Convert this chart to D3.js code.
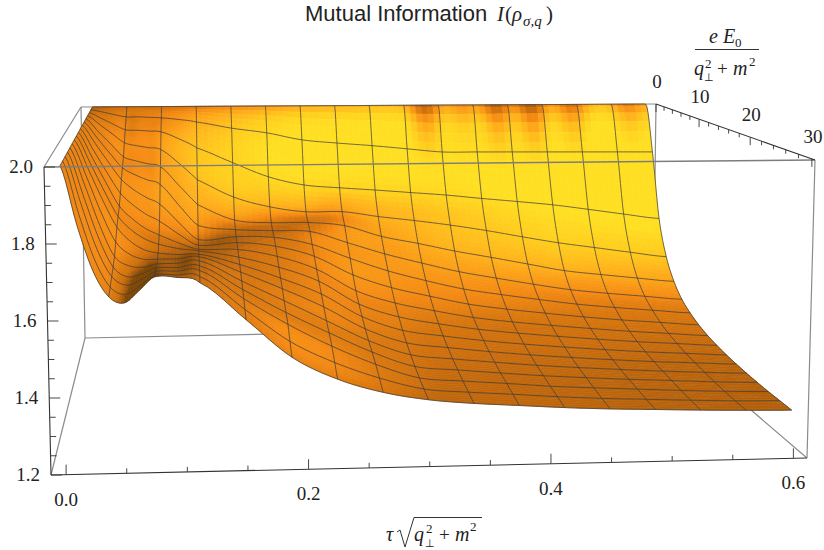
<!DOCTYPE html>
<html>
<head>
<meta charset="utf-8">
<title>Mutual Information</title>
<script src="https://cdnjs.cloudflare.com/ajax/libs/d3/7.8.5/d3.min.js"></script>
<style>
	body { margin: 0; background: #fff; }
	svg { display: block; }
	text { fill: #222; }
</style>
</head>
<body>
<div id="chart"></div>
<script>
// Grid of the surface
var tauValues = [0, 0.0125, 0.025, 0.0375, 0.05, 0.0625, 0.075, 0.09375, 0.1125, 0.15, 0.1875, 0.225, 0.2625, 0.3, 0.3375, 0.375, 0.4125, 0.45, 0.4875, 0.525, 0.5625, 0.6];
var fieldValues = [0, 1.875, 3.75, 5.625, 7.5, 9.375, 11.25, 13.125, 15, 16.875, 18.75, 20.625, 22.5, 24.375, 26.25, 28.125, 30];
var meshTau = [0, 0.0375, 0.075, 0.1125, 0.15, 0.1875, 0.225, 0.2625, 0.3, 0.3375, 0.375, 0.4125, 0.45, 0.4875, 0.525, 0.5625, 0.6];

// Mutual information, one row per tau value, one column per field value
var info = [
	[2, 2, 2, 2, 2, 2, 2, 2, 2, 2, 2, 2, 2, 2, 2, 2, 2],
	[2, 1.992, 1.981, 1.97, 1.958, 1.95, 1.942, 1.932, 1.924, 1.918, 1.912, 1.903, 1.893, 1.882, 1.871, 1.857, 1.846],
	[2, 1.983, 1.961, 1.94, 1.917, 1.9, 1.884, 1.864, 1.848, 1.835, 1.822, 1.8, 1.78, 1.764, 1.75, 1.735, 1.724],
	[2, 1.975, 1.942, 1.91, 1.876, 1.853, 1.829, 1.8, 1.775, 1.759, 1.743, 1.716, 1.692, 1.68, 1.672, 1.662, 1.656],
	[2, 1.975, 1.94, 1.9, 1.862, 1.83, 1.795, 1.762, 1.735, 1.717, 1.7, 1.68, 1.665, 1.652, 1.648, 1.642, 1.639],
	[2, 1.973, 1.937, 1.893, 1.852, 1.813, 1.77, 1.733, 1.705, 1.69, 1.675, 1.665, 1.66, 1.66, 1.662, 1.665, 1.671],
	[2, 1.971, 1.934, 1.886, 1.842, 1.798, 1.749, 1.711, 1.685, 1.674, 1.665, 1.665, 1.669, 1.676, 1.684, 1.693, 1.706],
	[2, 1.965, 1.91, 1.84, 1.78, 1.73, 1.69, 1.67, 1.66, 1.66, 1.66, 1.665, 1.67, 1.676, 1.684, 1.692, 1.704],
	[2, 1.956, 1.879, 1.785, 1.717, 1.665, 1.636, 1.635, 1.64, 1.652, 1.66, 1.67, 1.676, 1.68, 1.685, 1.687, 1.689],
	[2, 1.934, 1.828, 1.726, 1.665, 1.65, 1.644, 1.642, 1.638, 1.632, 1.628, 1.624, 1.617, 1.612, 1.606, 1.597, 1.59],
	[2, 1.917, 1.779, 1.692, 1.655, 1.645, 1.64, 1.629, 1.615, 1.6, 1.586, 1.574, 1.559, 1.546, 1.534, 1.509, 1.489],
	[2, 1.892, 1.75, 1.674, 1.654, 1.641, 1.616, 1.596, 1.574, 1.556, 1.537, 1.519, 1.5, 1.487, 1.472, 1.45, 1.429],
	[2, 1.88, 1.739, 1.673, 1.642, 1.603, 1.57, 1.536, 1.506, 1.485, 1.468, 1.453, 1.441, 1.431, 1.42, 1.406, 1.392],
	[2, 1.87, 1.73, 1.655, 1.605, 1.565, 1.528, 1.494, 1.466, 1.444, 1.425, 1.41, 1.398, 1.388, 1.38, 1.374, 1.37],
	[2, 1.858, 1.72, 1.64, 1.58, 1.533, 1.495, 1.465, 1.44, 1.421, 1.406, 1.394, 1.384, 1.376, 1.369, 1.363, 1.358],
	[2, 1.846, 1.71, 1.623, 1.553, 1.503, 1.466, 1.438, 1.417, 1.402, 1.39, 1.38, 1.372, 1.365, 1.36, 1.355, 1.35],
	[2, 1.845, 1.697, 1.603, 1.53, 1.48, 1.446, 1.42, 1.401, 1.388, 1.377, 1.368, 1.361, 1.355, 1.35, 1.346, 1.342],
	[2, 1.844, 1.685, 1.58, 1.506, 1.458, 1.428, 1.405, 1.388, 1.376, 1.366, 1.358, 1.352, 1.347, 1.343, 1.339, 1.336],
	[2, 1.843, 1.672, 1.558, 1.482, 1.438, 1.411, 1.391, 1.376, 1.365, 1.356, 1.349, 1.344, 1.34, 1.337, 1.334, 1.332],
	[2, 1.842, 1.655, 1.54, 1.467, 1.424, 1.398, 1.379, 1.365, 1.355, 1.347, 1.341, 1.337, 1.334, 1.331, 1.329, 1.328],
	[2, 1.841, 1.637, 1.522, 1.453, 1.412, 1.387, 1.369, 1.356, 1.347, 1.34, 1.335, 1.331, 1.328, 1.326, 1.325, 1.325],
	[2, 1.84, 1.62, 1.505, 1.44, 1.4, 1.376, 1.359, 1.347, 1.339, 1.333, 1.329, 1.326, 1.324, 1.323, 1.323, 1.323]
];

// Dark lobes near zero field: tau position and how dark each one is
var lobeTau = [0.36, 0.4, 0.437, 0.475, 0.518, 0.58];
var lobeDepth = [1.0, 0.5, 1.0, 1.1, 0.8, 0.6];

// Tick lists
var tauTicks = d3.range(0, 0.601, 0.05);
var tauLabels = [0, 0.2, 0.4, 0.6];
var infoTicks = d3.range(1.2, 2.001, 0.05);
var infoLabels = [1.2, 1.4, 1.6, 1.8, 2.0];
var fieldTicks = d3.range(0, 30.1, 2);
var fieldLabels = [0, 10, 20, 30];

var svg = d3.select('#chart')
	.append('svg')
	.attr('width', 824)
	.attr('height', 550);

// Corners of the plot box as seen on screen
var box = {
	frontTopLeft: [44, 167], frontTopRight: [815, 160],
	frontBottomLeft: [51, 475], frontBottomRight: [807, 458],
	backTopLeft: [81, 107], backTopRight: [656, 104],
	backBottomLeft: [85, 338], backBottomRight: [653, 326]
};

var tauScale = d3.scaleLinear().domain([0, 0.6]).range([0.02, 0.982]);
var fieldScale = d3.scaleLinear().domain([0, 30]).range([0, 0.985]);
var infoScale = d3.scaleLinear().domain([1.2, 2]).range([0, 1]);
var depth = 0.76;

function mix(a, b, t) {
	return [a[0] + (b[0] - a[0]) * t, a[1] + (b[1] - a[1]) * t];
}

// Box position (0..1 on each edge) to screen
function boxPoint(u, v, w) {
	var back = mix(mix(box.backBottomLeft, box.backBottomRight, u), mix(box.backTopLeft, box.backTopRight, u), w);
	var front = mix(mix(box.frontBottomLeft, box.frontBottomRight, u), mix(box.frontTopLeft, box.frontTopRight, u), w);
	var p = depth * v / (1 + (depth - 1) * v);
	return mix(back, front, p);
}

function project(tau, field, value) {
	return boxPoint(tauScale(tau), fieldScale(field), infoScale(value));
}

function catmull(p0, p1, p2, p3, t) {
	return 0.5 * (2 * p1 + (p2 - p0) * t + (2 * p0 - 5 * p1 + 4 * p2 - p3) * t * t + (3 * p1 - p0 - 3 * p2 + p3) * t * t * t);
}

// Value at a grid node, mirrored across zero field so the surface is flat there
function node(i, k) {
	i = Math.max(0, Math.min(tauValues.length - 1, i));
	if (k < 0) k = -k;
	k = Math.min(fieldValues.length - 1, k);
	return info[i][k];
}

// Smooth lookup between nodes, a and b are fractional grid indices
function surface(a, b) {
	var i = Math.min(Math.floor(a), tauValues.length - 2);
	var k = Math.min(Math.floor(b), fieldValues.length - 2);
	var s = a - i, t = b - k;
	var cols = [-1, 0, 1, 2].map(function(di) {
		return catmull(node(i + di, k - 1), node(i + di, k), node(i + di, k + 1), node(i + di, k + 2), t);
	});
	return Math.min(2, catmull(cols[0], cols[1], cols[2], cols[3], s));
}

function tauAt(a) {
	var i = Math.min(Math.floor(a), tauValues.length - 2);
	return tauValues[i] + (tauValues[i + 1] - tauValues[i]) * (a - i);
}

function fieldAt(b) {
	var k = Math.min(Math.floor(b), fieldValues.length - 2);
	return fieldValues[k] + (fieldValues[k + 1] - fieldValues[k]) * (b - k);
}

function surfacePoint(a, b) {
	return project(tauAt(a), fieldAt(b), surface(a, b));
}

// Brightness of the surface from its normal
function brightness(a, b) {
	var d = 0.05;
	var a0 = Math.max(0, a - d), a1 = Math.min(tauValues.length - 1, a + d);
	var b0 = Math.max(0, b - d), b1 = Math.min(fieldValues.length - 1, b + d);
	var zu = (surface(a1, b) - surface(a0, b)) / (tauAt(a1) - tauAt(a0)) * 0.75 * 0.4;
	var zv = (surface(a, b1) - surface(a, b0)) / (fieldAt(b1) - fieldAt(b0)) * 37.5 * 0.4;
	var n = Math.sqrt(zu * zu + zv * zv + 1);
	var nx = -zu / n, nv = -zv / n;
	var t = nv * (0.72 + 0.28 * Math.min(1, tauAt(a) / 0.22)) + (nx > 0 ? 0.25 * nx : 1.2 * nx);
	if (b < 1.3) {
		lobeTau.forEach(function(c, j) {
			var e = (tauAt(a) - c) / 0.011;
			t -= lobeDepth[j] * Math.exp(-e * e) * (1 - b / 1.3);
		});
	}
	return t;
}

var shade = d3.scaleLinear()
	.domain([-0.3, 0.03, 0.1, 0.17, 0.27, 0.45, 0.62, 0.75])
	.range(['#7f4604', '#b8620a', '#cd6e0b', '#d9760c', '#f58a12', '#ffae1a', '#ffce1e', '#ffdf22'])
	.clamp(true);

var subA = 6, subB = 6;
var nA = (tauValues.length - 1) * subA, nB = (fieldValues.length - 1) * subB;

// Brightness on the patch grid, softened a little
var light = d3.range(nA).map(function(ia) {
	return d3.range(nB).map(function(ib) {
		return brightness((ia + 0.5) / subA, (ib + 0.5) / subB);
	});
});
d3.range(6).forEach(function() {
	light = light.map(function(col, ia) {
		return col.map(function(v, ib) {
			var l = light[Math.max(0, ia - 1)][ib], r = light[Math.min(nA - 1, ia + 1)][ib];
			var u = col[Math.max(0, ib - 1)], w = col[Math.min(nB - 1, ib + 1)];
			return (2 * v + l + r + u + w) / 6;
		});
	});
});

var line = d3.line();

// Back edges of the box, behind the surface
var g = svg.append('g');
function edge(a, b, colour, width) {
	g.append('line')
		.attr('x1', a[0]).attr('y1', a[1])
		.attr('x2', b[0]).attr('y2', b[1])
		.attr('stroke', colour)
		.attr('stroke-width', width);
}
var grey = '#8c8c8c';
edge(box.backTopLeft, box.backTopRight, grey, 1.2);
edge(box.backTopLeft, box.backBottomLeft, grey, 1.2);
edge(box.backTopRight, box.backBottomRight, grey, 1.2);
edge(box.backBottomLeft, box.backBottomRight, grey, 1.2);
edge(box.frontTopLeft, box.backTopLeft, grey, 1.2);
edge(box.frontBottomLeft, box.backBottomLeft, grey, 1.2);
edge(box.frontBottomRight, box.backBottomRight, grey, 1.2);
edge(box.frontTopRight, box.frontBottomRight, grey, 1.2);

// Surface patches, back to front
var patches = svg.append('g');
d3.range(nB).forEach(function(ib) {
	d3.range(nA).forEach(function(ia) {
		var a0 = ia / subA, a1 = (ia + 1) / subA;
		var b0 = ib / subB, b1 = (ib + 1) / subB;
		var c = shade(light[ia][ib]);
		patches.append('path')
			.attr('d', line([surfacePoint(a0, b0), surfacePoint(a1, b0), surfacePoint(a1, b1), surfacePoint(a0, b1)]) + 'Z')
			.attr('fill', c)
			.attr('stroke', c)
			.attr('stroke-width', 0.6);
	});
});

// Mesh lines on the surface
var mesh = svg.append('g')
	.attr('fill', 'none')
	.attr('stroke', '#3c3c3c')
	.attr('stroke-opacity', 0.8)
	.attr('stroke-width', 0.9);

fieldValues.forEach(function(f, k) {
	var pts = d3.range(0, nA + 1).map(function(ia) { return surfacePoint(ia / subA, k); });
	mesh.append('path').attr('d', line(pts));
});
meshTau.forEach(function(t) {
	var a = tauValues.indexOf(t);
	var pts = d3.range(0, nB + 1).map(function(ib) { return surfacePoint(a, ib / subB); });
	mesh.append('path').attr('d', line(pts));
});

// Front top edge crosses over the surface
g = svg.append('g');
edge(box.frontTopLeft, box.frontTopRight, '#7d7d7d', 1.4);

// Axes with ticks
var dark = '#333';
edge(box.frontTopLeft, box.frontBottomLeft, dark, 1.1);
edge(box.frontBottomLeft, box.frontBottomRight, dark, 1.1);
edge(box.backTopRight, box.frontTopRight, dark, 1.1);

infoTicks.forEach(function(v) {
	var p = boxPoint(0, 1, infoScale(v));
	var major = infoLabels.some(function(l) { return Math.abs(l - v) < 1e-6; });
	edge(p, [p[0] + (major ? 11 : 6), p[1]], dark, 0.9);
});
tauTicks.forEach(function(v) {
	var p = boxPoint(tauScale(v), 1, 0);
	var major = tauLabels.some(function(l) { return Math.abs(l - v) < 1e-6; });
	edge(p, [p[0], p[1] - (major ? 10 : 5)], dark, 0.9);
});
fieldTicks.forEach(function(v) {
	var p = boxPoint(1, fieldScale(v), 1);
	var major = v % 10 == 0;
	edge(p, [p[0], p[1] + (major ? 8 : 4)], dark, 0.9);
});

var serif = '"Liberation Serif", serif';

function label(x, y, str, size, opts) {
	opts = opts || {};
	return svg.append('text')
		.attr('x', x)
		.attr('y', y)
		.attr('font-size', size)
		.attr('font-style', opts.italic ? 'italic' : null)
		.attr('font-family', opts.family || serif)
		.attr('text-anchor', opts.anchor || 'start')
		.text(str);
}

infoLabels.forEach(function(v) {
	var p = boxPoint(0, 1, infoScale(v));
	label(p[0] - 11, p[1] + 6, v.toFixed(1), 19, {anchor: 'end'});
});
tauLabels.forEach(function(v) {
	var p = boxPoint(tauScale(v), 1, 0);
	label(p[0], p[1] + 31, v.toFixed(1), 19, {anchor: 'middle'});
});
fieldLabels.forEach(function(v) {
	var p = boxPoint(1, fieldScale(v), 1);
	label(p[0] + 1, p[1] - 16, v, 19, {anchor: 'middle'});
});

// Title
label(305, 21, 'Mutual Information', 22, {family: '"Liberation Sans", sans-serif'});
label(497, 21, 'I', 21, {italic: true});
label(505, 21, '(', 21);
label(512, 21, 'ρ', 21, {italic: true});
label(523, 26, 'σ,q', 15, {italic: true});
label(546, 21, ')', 21);

// Field label, a fraction
label(709, 43, 'e E', 20, {italic: true});
label(735, 47, '0', 13);
svg.append('line').attr('x1', 695).attr('y1', 49.5).attr('x2', 759).attr('y2', 49.5).attr('stroke', '#333').attr('stroke-width', 1);
label(694, 75, 'q', 20, {italic: true});
label(705, 68, '2', 13);
label(704, 81, '⊥', 11);
label(717, 75, '+', 19);
label(733, 75, 'm', 20, {italic: true});
label(749, 66, '2', 13);

// Tau label with a root sign
label(386, 541, 'τ', 20, {italic: true});
svg.append('path')
	.attr('d', 'M397,532 L400,530 L405,547 L414,517.5 L482,517.5')
	.attr('fill', 'none')
	.attr('stroke', '#333')
	.attr('stroke-width', 1);
label(414, 541, 'q', 20, {italic: true});
label(426, 533, '2', 13);
label(425, 547, '⊥', 11);
label(439, 541, '+', 19);
label(455, 541, 'm', 20, {italic: true});
label(470, 531, '2', 13);
</script>
</body>
</html>
